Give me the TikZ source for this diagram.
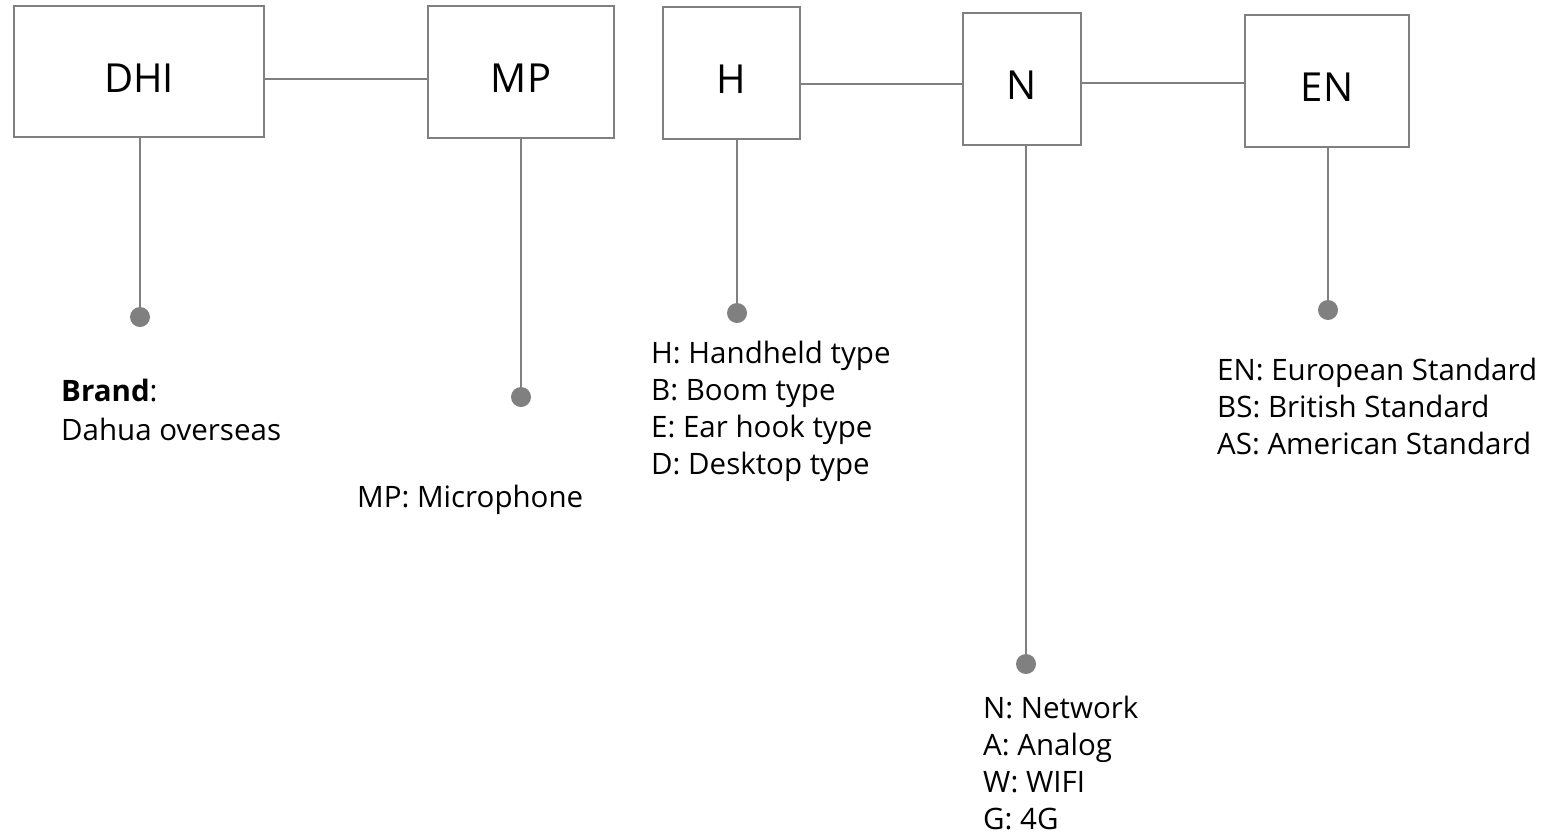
\documentclass[tikz,border=0pt]{standalone}
\usepackage{fontspec}
\setmainfont{Open Sans}
\begin{document}
\begin{tikzpicture}[x=1pt,y=-1pt,
    box/.style={draw=gray,line width=1.8pt,inner sep=0pt,text height=41pt,text depth=0pt,font=\fontsize{40}{48}\selectfont},
    stem/.style={draw=gray,line width=1.8pt},
    pin/.style={circle,fill=gray,inner sep=0pt,minimum size=20pt},
    desc/.style={anchor=base west,align=left,inner sep=0pt,font=\fontsize{29.5}{37}\selectfont}]
    \useasboundingbox(0,0)rectangle(1545,839);
    % code boxes
    \node[box,minimum width=250pt,minimum height=131pt](dhi)at(139,71.5){DHI};
    \node[box,minimum width=186pt,minimum height=132pt](mp)at(521,72){MP};
    \node[box,minimum width=137pt,minimum height=132pt](hh)at(731.5,73){H};
    \node[box,minimum width=118pt,minimum height=132pt](nw)at(1022,79){N};
    \node[box,minimum width=164pt,minimum height=132pt](en)at(1327,81){EN};
    \draw[stem](dhi.east|-0,79)--(mp.west|-0,79);
    \draw[stem](hh.east|-0,84)--(nw.west|-0,84);
    \draw[stem](nw.east|-0,83)--(en.west|-0,83);
    % pins
    \node[pin](dhidot)at(140,317){};
    \node[pin](mpdot)at(521,397){};
    \node[pin](hhdot)at(737,313){};
    \node[pin](nwdot)at(1026,664){};
    \node[pin](endot)at(1328,310){};
    \draw[stem](dhidot|-dhi.south)--(dhidot.center);
    \draw[stem](mpdot|-mp.south)--(mpdot.center);
    \draw[stem](hhdot|-hh.south)--(hhdot.center);
    \draw[stem](nwdot|-nw.south)--(nwdot.center);
    \draw[stem](endot|-en.south)--(endot.center);
    % meanings (base = last line)
    \node[desc,font=\fontsize{29.5}{39}\selectfont](dhitxt)at(61,440){\textbf{Brand}:\\Dahua overseas};
    \node[desc](mptxt)at(357,507){MP: Microphone};
    \node[desc](hhtxt)at(651,474){H: Handheld type\\B: Boom type\\E: Ear hook type\\D: Desktop type};
    \node[desc](nwtxt)at(983,829){N: Network\\A: Analog\\W: WIFI\\G: 4G};
    \node[desc](entxt)at(1217,454){EN: European Standard\\BS: British Standard\\AS: American Standard};
\end{tikzpicture}
\end{document}
